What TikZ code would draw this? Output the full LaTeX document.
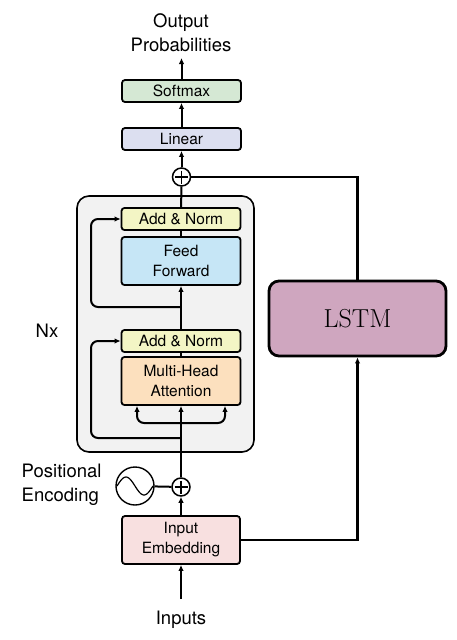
\documentclass[tikz,border=0pt]{standalone}
\usepackage{fontspec}
\setsansfont{TeX Gyre Heros}
\usetikzlibrary{arrows.meta}
\definecolor{softgreen}{HTML}{D5E8D4}
\definecolor{lingray}{HTML}{DCDFF0}
\definecolor{normyellow}{HTML}{F3F5C5}
\definecolor{ffblue}{HTML}{C6E6F6}
\definecolor{attorange}{HTML}{FCE0BE}
\definecolor{embpink}{HTML}{F8E0E0}
\definecolor{encgray}{HTML}{F2F2F2}
\definecolor{lstmpurple}{HTML}{CFA6BF}
\tikzset{
  layer/.style={draw, rounded corners=3pt, line width=1.8pt, minimum width=119pt, align=center,
    inner sep=0pt, font=\sffamily\fontsize{15.5}{20}\selectfont},
  thinlayer/.style={layer, minimum height=22pt},
  thicklayer/.style={layer, minimum height=48pt},
  plus/.style={circle, draw, fill=white, line width=1.5pt, minimum size=18pt, inner sep=0pt,
    path picture={\draw[line width=1.2pt] ([yshift=-2.5pt]path picture bounding box.north) -- ([yshift=2.5pt]path picture bounding box.south)
      ([xshift=2.5pt]path picture bounding box.west) -- ([xshift=-2.5pt]path picture bounding box.east);}},
  label/.style={font=\sffamily\fontsize{18.5}{24}\selectfont},
  conn/.style={line width=2pt},
  arr/.style={conn, -{Latex[length=6pt,width=5.5pt]}}
}
\begin{document}
\begin{tikzpicture}[x=1pt,y=-1pt]
        \useasboundingbox (0,0) rectangle (456,640);
        %encoder block
        \draw [rounded corners=12pt, line width=1.6pt, fill=encgray] (77,196) rectangle (254,452);
        \node (nx) at (47,331) [label] {Nx};
        %layers
        \node (softmax) at (181.5,91) [thinlayer, fill=softgreen] {Softmax};
        \node (linear) at (181.5,139) [thinlayer, fill=lingray] {Linear};
        \node (outplus) at (181.5,177) [plus] {};
        \node (normB) at (181,219) [thinlayer, fill=normyellow] {Add \& Norm};
        \node (ffn) at (181,261) [thicklayer, fill=ffblue] {Feed\\Forward};
        \node (normA) at (181,341) [thinlayer, fill=normyellow] {Add \& Norm};
        \node (mha) at (181,381) [thicklayer, fill=attorange] {Multi-Head\\Attention};
        \node (inplus) at (181,487) [plus] {};
        \node (sine) at (135,486) [circle, draw, line width=1.4pt, minimum size=38pt, inner sep=0pt] {};
        \node (posenc) at (105,485) [label, anchor=east, align=left] {Positional\\Encoding};
        \node (emb) at (181,540) [thicklayer, minimum width=118pt, fill=embpink] {Input\\Embedding};
        \node (lstm) at (357.5,318.5) [draw, rounded corners=10pt, line width=2.8pt, fill=lstmpurple,
          minimum width=177pt, minimum height=75pt, font=\fontsize{26}{30}\selectfont] {LSTM};
        \node (inputs) at (181,620) [label] {Inputs};
        \node (output) at (181,33) [label, align=center] {Output\\Probabilities};
        %sine wave
        \draw [line width=1.2pt] plot[domain=-1:1, samples=30, smooth] ({135+18*\x}, {486+9*sin(180*\x)});
        %coordinates
        \coordinate (inputsTop) at (181,599);
        \coordinate (outTop) at (181.5,58);
        \coordinate (split) at (181,423);
        \coordinate (resA) at (181,438);
        \coordinate (resB) at (181,307);
        %edges
        \draw [arr] (inputsTop) -- (emb);
        \draw [arr] (emb) -- (inplus);
        \draw [conn] (sine) -- (inplus);
        \draw [arr] (inplus) -- (mha);
        \draw [arr, rounded corners=7pt] (split) -| ([xshift=-44pt]mha.south);
        \draw [arr, rounded corners=7pt] (split) -| ([xshift=44pt]mha.south);
        \draw [arr, rounded corners=7pt] (resA) -- (91,438) |- (normA);
        \draw [conn] (mha) -- (normA);
        \draw [arr] (normA) -- (ffn);
        \draw [arr, rounded corners=7pt] (resB) -- (91,307) |- (normB);
        \draw [conn] (ffn) -- (normB);
        \draw [conn] (normB) -- (outplus);
        \draw [arr] (outplus) -- (linear);
        \draw [arr] (linear) -- (softmax);
        \draw [arr] (softmax) -- (outTop);
        \draw [conn, line width=2.6pt] (outplus) -| (lstm);
        \draw [arr, line width=2.6pt] (emb) -| (lstm);
\end{tikzpicture}
\end{document}
